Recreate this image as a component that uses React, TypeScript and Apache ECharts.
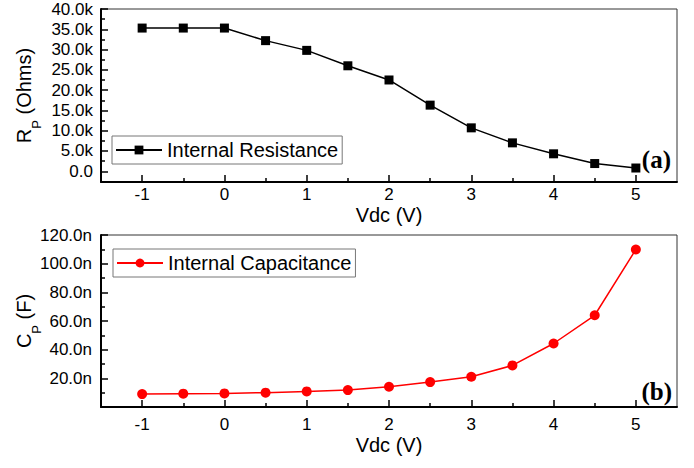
import React, { useEffect, useRef } from "react";
import * as echarts from "echarts";

const vdc = [-1, -0.5, 0, 0.5, 1, 1.5, 2, 2.5, 3, 3.5, 4, 4.5, 5];
const resistance = [35300, 35300, 35300, 32200, 29800, 26000, 22500, 16300, 10700, 7000, 4300, 1900, 800];
const capacitanceN = [9.0, 9.3, 9.5, 10.0, 10.9, 11.8, 14.1, 17.4, 21.1, 29.0, 44.3, 64.0, 109.9];

const xMajor = [-1, 0, 1, 2, 3, 4, 5];
const xMinor = [-0.5, 0.5, 1.5, 2.5, 3.5, 4.5];
const rMajor = [0, 5000, 10000, 15000, 20000, 25000, 30000, 35000, 40000];
const rMinor = [2500, 7500, 12500, 17500, 22500, 27500, 32500, 37500];
const cMajor = [20, 40, 60, 80, 100, 120];
const cMinor = [10, 30, 50, 70, 90, 110];

const FONT = "Liberation Sans";

export default function App() {
  const ref = useRef<HTMLDivElement>(null);
  useEffect(() => {
    document.body.style.margin = "0";
    const chart = echarts.init(ref.current!, null, { renderer: "svg" });
    const axisLineStyle = { onZero: false, lineStyle: { color: "#000", width: 2 } };
    const nameRich = {
      a: { fontSize: 20, fontFamily: FONT, color: "#000" },
      b: { fontSize: 13, fontFamily: FONT, color: "#000", verticalAlign: "bottom", lineHeight: 13, padding: [0, 0, -9, 0] },
    };
    const mkX = (gridIndex: number, labelMargin: number, nameGap: number) => [
      {
        type: "value",
        gridIndex,
        position: "bottom",
        min: -1.5,
        max: 5.5,
        name: "Vdc (V)",
        nameLocation: "middle",
        nameGap,
        nameMoveOverlap: false,
        nameTextStyle: { fontSize: 20, lineHeight: 16, color: "#000", fontFamily: FONT },
        axisLine: { show: true, ...axisLineStyle },
        axisTick: { show: true, inside: true, length: 7, customValues: xMajor, lineStyle: { color: "#000", width: 1.5 } },
        axisLabel: {
          show: true,
          customValues: xMajor,
          fontSize: 17,
          lineHeight: 14,
          color: "#000",
          fontFamily: FONT,
          margin: labelMargin,
          formatter: (v: number) => String(v),
        },
        splitLine: { show: false },
      },
      {
        type: "value",
        gridIndex,
        position: "bottom",
        min: -1.5,
        max: 5.5,
        axisLine: { show: false, onZero: false },
        axisTick: { show: true, inside: true, length: 4, customValues: xMinor, lineStyle: { color: "#000", width: 1.5 } },
        axisLabel: { show: false },
        splitLine: { show: false },
      },
    ];
    const option: any = {
      animation: false,
      textStyle: { fontFamily: FONT },
      grid: [
        { left: 101, top: 9, width: 576, height: 173, show: true, borderColor: "#333", borderWidth: 1, containLabel: false, outerBoundsMode: "none" },
        { left: 101, top: 235, width: 576, height: 172, show: true, borderColor: "#333", borderWidth: 1, containLabel: false, outerBoundsMode: "none" },
      ],
      xAxis: [...mkX(0, 5, 25), ...mkX(1, 10, 30)],
      yAxis: [
        {
          type: "value",
          gridIndex: 0,
          position: "left",
          min: -2650,
          max: 40000,
          name: "{a|R}{b|P}{a| (Ohms)}",
          nameLocation: "middle",
          nameGap: 67,
          nameMoveOverlap: false,
          nameTextStyle: { color: "#000", rich: nameRich },
          axisLine: { show: true, ...axisLineStyle },
          axisTick: { show: true, inside: true, length: 7, customValues: rMajor, lineStyle: { color: "#000", width: 1.5 } },
          axisLabel: {
            show: true,
            customValues: rMajor,
            fontSize: 17,
            color: "#000",
            fontFamily: FONT,
            margin: 8,
            formatter: (v: number) => (v === 0 ? "0.0" : (v / 1000).toFixed(1) + "k"),
          },
          splitLine: { show: false },
        },
        {
          type: "value",
          gridIndex: 0,
          position: "left",
          min: -2650,
          max: 40000,
          axisLine: { show: false, onZero: false },
          axisTick: { show: true, inside: true, length: 4, customValues: rMinor, lineStyle: { color: "#000", width: 1.5 } },
          axisLabel: { show: false },
          splitLine: { show: false },
        },
        {
          type: "value",
          gridIndex: 1,
          position: "left",
          min: 0,
          max: 120,
          name: "{a|C}{b|P}{a| (F)}",
          nameLocation: "middle",
          nameGap: 67,
          nameMoveOverlap: false,
          nameTextStyle: { color: "#000", rich: nameRich },
          axisLine: { show: true, ...axisLineStyle },
          axisTick: { show: true, inside: true, length: 7, customValues: cMajor, lineStyle: { color: "#000", width: 1.5 } },
          axisLabel: {
            show: true,
            customValues: cMajor,
            fontSize: 17,
            color: "#000",
            fontFamily: FONT,
            margin: 9,
            formatter: (v: number) => v.toFixed(1) + "n",
          },
          splitLine: { show: false },
        },
        {
          type: "value",
          gridIndex: 1,
          position: "left",
          min: 0,
          max: 120,
          axisLine: { show: false, onZero: false },
          axisTick: { show: true, inside: true, length: 4, customValues: cMinor, lineStyle: { color: "#000", width: 1.5 } },
          axisLabel: { show: false },
          splitLine: { show: false },
        },
      ],
      legend: [
        {
          data: ["Internal Resistance"],
          left: 112,
          top: 136,
          orient: "horizontal",
          itemWidth: 46,
          itemHeight: 11,
          padding: [4, 4, 4, 3],
          borderColor: "#777",
          borderWidth: 1,
          textStyle: { fontSize: 20, color: "#000", fontFamily: FONT },
        },
        {
          data: ["Internal Capacitance"],
          left: 113,
          top: 249,
          orient: "horizontal",
          itemWidth: 46,
          itemHeight: 11,
          padding: [4, 4, 4, 3],
          borderColor: "#777",
          borderWidth: 1,
          textStyle: { fontSize: 20, color: "#000", fontFamily: FONT },
        },
      ],
      series: [
        {
          name: "Internal Resistance",
          type: "line",
          xAxisIndex: 0,
          yAxisIndex: 0,
          data: vdc.map((x, i) => [x, resistance[i]]),
          symbol: "rect",
          symbolSize: 9,
          itemStyle: { color: "#000" },
          lineStyle: { color: "#000", width: 1.5 },
        },
        {
          name: "Internal Capacitance",
          type: "line",
          xAxisIndex: 2,
          yAxisIndex: 2,
          data: vdc.map((x, i) => [x, capacitanceN[i]]),
          symbol: "circle",
          symbolSize: 10,
          itemStyle: { color: "#ff0000" },
          lineStyle: { color: "#ff0000", width: 1.5 },
        },
      ],
      graphic: [
        {
          type: "text",
          right: 23,
          top: 147,
          style: { text: "(a)", font: "bold 25px 'Liberation Serif'", fill: "#000" },
        },
        {
          type: "text",
          right: 22,
          top: 379,
          style: { text: "(b)", font: "bold 25px 'Liberation Serif'", fill: "#000" },
        },
      ],
    };
    chart.setOption(option);
    return () => chart.dispose();
  }, []);
  return <div ref={ref} style={{ width: 694, height: 468 }} />;
}
